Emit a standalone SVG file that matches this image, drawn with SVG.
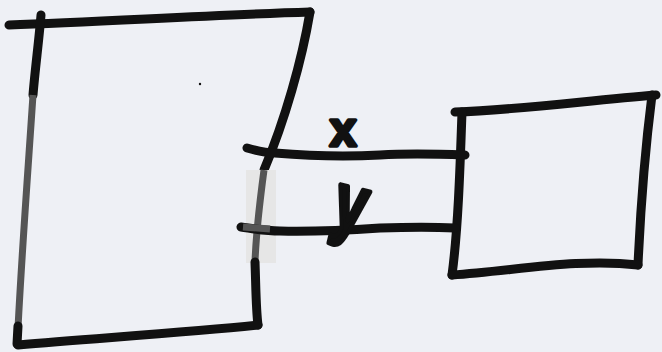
<svg xmlns="http://www.w3.org/2000/svg" width="662" height="352" viewBox="0 0 662 352">
<style>
.ink{fill:none;stroke:#111;stroke-width:9;stroke-linecap:round;stroke-linejoin:round}
.grey{fill:none;stroke:#555;stroke-width:7;stroke-linecap:butt}
.lbl{font-family:"Liberation Sans",Arial,sans-serif;font-weight:bold;fill:#111;stroke:#111;stroke-width:3.5;stroke-linejoin:round}
</style>
<rect width="662" height="352" fill="#eef0f5"/>
<g id="box-left">
<path class="ink" d="M9,25 C100,22 210,15 310,12"/>
<path class="ink" d="M41,15 C39,40 35,70 33,95"/>
<path class="grey" d="M33,95 C28,170 22,250 18,328"/>
<path class="ink" d="M18,326 L17,344"/>
<path class="ink" d="M310,12 C302,60 285,120 264,170"/>
<rect x="246" y="170" width="30" height="93" fill="#e6e6e6"/>
<path class="grey" d="M264,170 C260,200 256,235 255,262"/>
<path class="ink" d="M255,262 C256,290 256,310 258,325"/>
<path class="ink" d="M258,325 C190,332 100,338 18,345"/>
<circle cx="200" cy="84" r="1.2" fill="#111"/>
</g>
<g id="box-right">
<path class="ink" d="M455,112 C520,110 590,100 656,95"/>
<path class="ink" d="M462,112 C460,170 458,230 452,275"/>
<path class="ink" d="M652,95 C645,150 640,220 638,265"/>
<path class="ink" d="M452,275 C520,270 580,258 638,265"/>
</g>
<g id="connectors">
<path class="ink" d="M247,148 C258,151 265,153 275,153 C310,156 345,157 380,155 C410,153 440,154 465,155"/>
<path class="ink" d="M241,227 C255,229 265,231 280,231 C320,232 350,230 380,228 C410,227 435,227 455,228"/>
<path d="M243,227 L270,229" stroke="#555" stroke-width="7" fill="none"/>
</g>
<g id="labels">
<text class="lbl" x="343" y="146" font-size="48" text-anchor="middle">x</text>
<text class="lbl" font-size="58" text-anchor="middle" transform="translate(345,230) rotate(14) scale(1,1.4)">y</text>
</g>
</svg>
